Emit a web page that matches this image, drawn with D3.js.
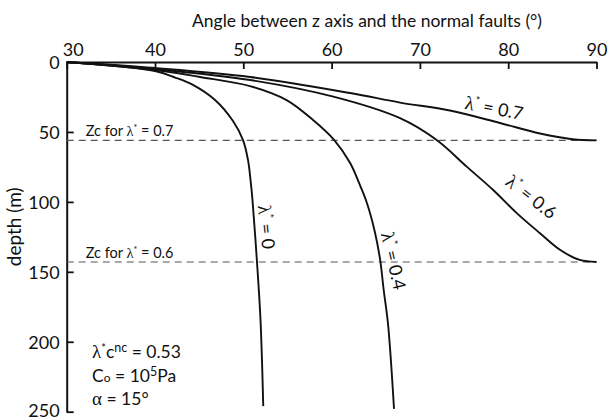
<!DOCTYPE html>
<html>
<head>
<meta charset="utf-8">
<script src="https://cdn.jsdelivr.net/npm/d3@7"></script>
<style>
  html, body { margin: 0; padding: 0; background: #fff; }
  svg text { font-family: "Lato", "Open Sans", sans-serif; fill: #111; }
  .greek { font-family: "Liberation Serif", "DejaVu Serif", serif; }
</style>
</head>
<body>
<svg id="chart" width="610" height="420"></svg>
<script>
// Fault angle (degrees from the z axis) against depth, one profile per lambda*
const angleTicks = [30, 40, 50, 60, 70, 80, 90];
const depthTicks = [0, 50, 100, 150, 200, 250];

const curveLambda0  = [[30,0],[40,6.4],[42.3,11.1],[44.3,16.4],[46.8,27.2],[48.83,42.2],[49.97,55.8],[50.53,70],[50.82,84.4],[51.04,98.6],[51.55,143],[51.95,184.4],[52.26,246]];
const curveLambda04 = [[30,0],[40,5.7],[45.1,10.7],[50.76,17.2],[54.9,27.2],[57.9,41.5],[60.3,55.8],[62.1,72.2],[63.2,87.9],[64.0,100.8],[64.9,121.5],[65.5,141.5],[65.9,163],[66.4,188],[67.07,248]];
const curveLambda06 = [[30,0],[40,5],[50.8,12.9],[60.2,24.8],[67.75,40.2],[71.9,55.8],[75.3,74.8],[78.3,91.5],[81.0,108.2],[83.6,122.4],[85.9,134.4],[88.1,141.5],[90,143]];
const curveLambda07 = [[30,0],[40,4.3],[50.77,10.7],[62.1,22.2],[67.75,29.0],[73.4,34.7],[79.06,43.6],[83.6,51.1],[87.3,55.2],[90,56]];

const lambdaValues = ["0.7", "0.6", "0", "0.4"];
const zcLambda = ["0.7", "0.6"];
const zcDepth = [56, 143];

const svg = d3.select("#chart");
const plotLeft = 66.7, plotRight = 596.5, plotTop = 62, plotBottom = 411.7;

const x = d3.scaleLinear().domain([30, 90]).range([plotLeft, plotRight]);
const y = d3.scaleLinear().domain([0, 250]).range([plotTop, plotBottom]);

// Axis titles
svg.append("text")
  .attr("x", 367).attr("y", 27)
  .attr("text-anchor", "middle")
  .style("font-size", "17.5px")
  .text("Angle between z axis and the normal faults (°)");

svg.append("text")
  .attr("transform", `translate(21,${(plotTop + plotBottom) / 2 - 10}) rotate(-90)`)
  .attr("text-anchor", "middle")
  .style("font-size", "19px")
  .text("depth (m)");

// Top axis with inner ticks
const xAxis = svg.append("g")
  .attr("transform", `translate(0,${plotTop})`)
  .call(d3.axisTop(x).tickValues(angleTicks).tickSizeInner(-7).tickSizeOuter(0).tickPadding(6));
xAxis.select(".domain").attr("stroke", "#111").attr("stroke-width", 2);
xAxis.selectAll(".tick line").attr("stroke", "#111").attr("stroke-width", 1.8);
xAxis.selectAll(".tick text")
  .style("font-size", "18px").attr("fill", "#111").attr("font-family", null)
  .attr("dx", d => d === 30 ? 6 : 0);

const yAxis = svg.append("g")
  .attr("transform", `translate(${plotLeft},0)`)
  .call(d3.axisLeft(y).tickValues(depthTicks).tickSizeInner(-7).tickSizeOuter(0).tickPadding(7));
yAxis.select(".domain").attr("stroke", "#111").attr("stroke-width", 2);
yAxis.selectAll(".tick line").attr("stroke", "#111").attr("stroke-width", 1.8);
yAxis.selectAll(".tick text")
  .style("font-size", "18px").attr("fill", "#111").attr("font-family", null)
  .attr("dy", d => d === 250 ? "0.25em" : "0.35em");

// Critical depth lines
zcDepth.forEach((d, i) => {
  svg.append("line")
    .attr("x1", x(30)).attr("x2", x(90))
    .attr("y1", y(d)).attr("y2", y(d))
    .attr("stroke", "#555").attr("stroke-width", 1.1)
    .attr("stroke-dasharray", "7,5");
  const t = svg.append("text")
    .attr("x", x(30) + 19).attr("y", y(d) - 4)
    .style("font-size", "14.5px");
  t.append("tspan").text("Zc for ");
  t.append("tspan").attr("class", "greek").text("λ");
  t.append("tspan").attr("dy", -5).style("font-size", "9px").text("*");
  t.append("tspan").attr("dy", 5).text(" = " + zcLambda[i]);
});

// Profiles
const line = d3.line()
  .x(d => x(d[0])).y(d => y(d[1]))
  .curve(d3.curveCatmullRom.alpha(0.5));

[curveLambda07, curveLambda06, curveLambda0, curveLambda04].forEach(c => {
  svg.append("path")
    .datum(c)
    .attr("d", line)
    .attr("fill", "none")
    .attr("stroke", "#111")
    .attr("stroke-width", 1.9);
});

// Curve labels, rotated along each profile
const labelAnchors = [
  { a: 78.4, d: 33, rot: 11 },
  { a: 82.6, d: 96.5, rot: 38 },
  { a: 52.6, d: 118, rot: 84 },
  { a: 67.0, d: 142.2, rot: 77 }
];
labelAnchors.forEach((p, i) => {
  const t = svg.append("text")
    .attr("transform", `translate(${x(p.a)},${y(p.d)}) rotate(${p.rot})`)
    .attr("text-anchor", "middle")
    .attr("dy", "0.35em")
    .style("font-size", "18px");
  t.append("tspan").attr("class", "greek").style("font-size", "19px").text("λ");
  t.append("tspan").attr("dy", -7).style("font-size", "11px").text("*");
  t.append("tspan").attr("dy", 7).text(" = " + lambdaValues[i]);
});

// Parameter block
const px = 92;
const l1 = svg.append("text").attr("x", px).attr("y", 358).style("font-size", "17.5px");
l1.append("tspan").attr("class", "greek").style("font-size", "19px").text("λ");
l1.append("tspan").attr("dy", -6).style("font-size", "11px").text("*");
l1.append("tspan").attr("dy", 6).text("c");
l1.append("tspan").attr("dy", -6).style("font-size", "12.5px").text("nc");
l1.append("tspan").attr("dy", 6).text(" = 0.53");

const l2 = svg.append("text").attr("x", px).attr("y", 382).style("font-size", "17.5px");
l2.append("tspan").text("C");
l2.append("tspan").style("font-size", "12px").text("o");
l2.append("tspan").text(" = 10");
l2.append("tspan").attr("dy", -6).style("font-size", "12.5px").text("5");
l2.append("tspan").attr("dy", 6).text("Pa");

const l3 = svg.append("text").attr("x", px).attr("y", 405).style("font-size", "17.5px");
l3.append("tspan").attr("class", "greek").style("font-size", "19px").text("α");
l3.append("tspan").text(" = 15°");
</script>
</body>
</html>
